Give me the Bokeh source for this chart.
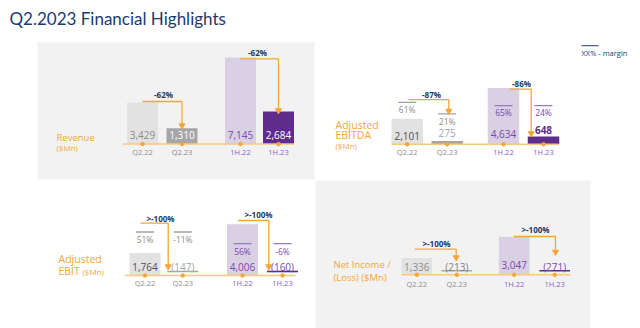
from bokeh.plotting import figure
from bokeh.layouts import column, row
from bokeh.models import Range1d
from bokeh.core.properties import value
from bokeh.embed import file_html
from bokeh.resources import INLINE

# ---------------- data ----------------
periods = ["Q2.22", "Q2.23", "1H.22", "1H.23"]
revenue = [3429, 1310, 7145, 2684]
revenue_change = ["-62%", "-62%"]
ebitda = [2101, 275, 4634, 648]
ebitda_margin = ["61%", "21%", "65%", "24%"]
ebitda_change = ["-87%", "-86%"]
ebit = [1764, -147, 4006, -160]
ebit_margin = ["51%", "-11%", "56%", "-6%"]
ebit_change = [">-100%", ">-100%"]
net_income = [1336, -213, 3047, -271]
net_income_change = [">-100%", ">-100%"]

FONT = "Open Sans"
NAVY = "#1d3a70"
ORANGE = "#f4a637"
BASE_LINE = "#fbc77a"
GRAY_TXT = "#8c8c8c"
PURPLE_TXT = "#7a46b0"
BAR_COLORS = ["#e2e2e2", "#a6a6a6", "#d9d1e3", "#5e2d8c"]
PANEL_BG = "#f2f2f2"


def fmt(v):
    return f"{v:,}" if v >= 0 else f"({-v:,})"


def make_panel(x0, y0, w, h, frame, base, scale, bg):
    fl, ft, fr, fb = frame
    p = figure(width=w, height=h, output_backend="svg", toolbar_location=None,
               x_range=Range1d(fl, fr),
               y_range=Range1d(-(fb - base) / scale, (base - ft) / scale),
               min_border_left=fl - x0, min_border_right=x0 + w - fr,
               min_border_top=ft - y0, min_border_bottom=y0 + h - fb,
               x_axis_location=None, y_axis_location=None,
               background_fill_color=bg, border_fill_color="white",
               outline_line_color=None)
    p.grid.visible = False

    def py(y):
        return (base - y) / scale
    return p, py


def txt(p, x, y, t, color, size, align="center", bold=False):
    p.text(x=x, y=y, text=t, text_color=color, text_font=value(FONT),
           text_font_size=size, text_align=align, text_baseline="middle",
           text_font_style="bold" if bold else "normal")


def draw_common(p, py, centers, bw, vals, line_x, cat_y, val_y, val_colors,
                val_bold, scale):
    tops = [max(v, 0) for v in vals]
    p.vbar(x=centers, width=bw, bottom=0, top=tops, fill_color=BAR_COLORS,
           line_color=None)
    for c, v, col in zip(centers, vals, ["#a6a6a6", "#a6a6a6", "#8a5cc0", "#5e2d8c"]):
        if v < 0:
            p.segment(x0=[c - bw / 2], x1=[c + bw / 2], y0=[4 / scale], y1=[4 / scale],
                      line_color=col, line_width=1.6)
    p.segment(x0=[line_x[0]], x1=[line_x[1]], y0=[0], y1=[0], line_color=BASE_LINE,
              line_width=1.6)
    p.scatter(x=centers, y=[0] * 4, size=3.5, color=ORANGE)
    txt(p, centers, [py(cat_y)] * 4, periods,
        [GRAY_TXT, GRAY_TXT, "#8e5cc7", "#8e5cc7"], "7.5px")
    for c, v, y, col, b in zip(centers, vals, val_y, val_colors, val_bold):
        txt(p, [c], [py(y)], [fmt(v)], col, "10px", bold=b)


def draw_arrow(p, py, x0, x1, yh, yend, label, lx, ly):
    p.line(x=[x0, x1, x1], y=[py(yh), py(yh), py(yend)], line_color=ORANGE,
           line_width=1.3)
    p.scatter(x=[x1], y=[py(yend + 1)], marker="inverted_triangle", size=6,
              color=ORANGE)
    txt(p, [lx], [py(ly)], [label], NAVY, "8px", bold=True)


def draw_margins(p, py, centers, labels, ys, colors, line_colors):
    for c, lab, y, col, lc in zip(centers, labels, ys, colors, line_colors):
        p.segment(x0=[c - 9], x1=[c + 9], y0=[py(y - 7.5)], y1=[py(y - 7.5)],
                  line_color=lc, line_width=1.3)
        txt(p, [c], [py(y)], [lab], col, "8.5px")


# ---------------- title ----------------
title = figure(width=640, height=40, output_backend="svg", toolbar_location=None,
               x_range=Range1d(0, 640), y_range=Range1d(40, 0),
               min_border_left=0, min_border_right=0, min_border_top=0,
               min_border_bottom=0, x_axis_location=None, y_axis_location=None,
               outline_line_color=None, background_fill_color="white",
               border_fill_color="white")
title.grid.visible = False
title.text(x=[9], y=[18], text=["Q2.2023 Financial Highlights"], text_color=NAVY,
           text_font=value("Lato"), text_font_size="17px", text_align="left",
           text_baseline="middle")

# ---------------- Revenue (top left) ----------------
s1 = 0.0121
tl, py1 = make_panel(0, 40, 315, 140, (37, 42, 314, 179), 143.5, s1, PANEL_BG)
c1 = [142, 181.5, 240, 278]
draw_common(tl, py1, c1, 31, revenue, (122, 293.5), 151, [134.5] * 4,
            ["#8c8c8c", "white", PURPLE_TXT, "white"], [False, False, False, False], s1)
draw_arrow(tl, py1, 142, 181.5, 101, 124, revenue_change[0], 163, 94)
draw_arrow(tl, py1, 240, 278, 58.3, 109, revenue_change[1], 257, 51.5)
txt(tl, [56], [py1(136.5)], ["Revenue"], ORANGE, "9.5px", align="left")
txt(tl, [56], [py1(146.5)], ["($Mn)"], ORANGE, "8px", align="left")

# ---------------- Adjusted EBITDA (top right) ----------------
s2 = 0.0124
tr, py2 = make_panel(315, 40, 325, 140, (315, 40, 640, 180), 144, s2, "white")
c2 = [406.7, 446.7, 503, 543]
draw_common(tr, py2, c2, 31.5, ebitda, (391, 558), 151.5, [136, 132.5, 133.5, 129],
            ["#505050", "#a6a6a6", PURPLE_TXT, "#5e2d8c"], [False, False, False, True], s2)
draw_margins(tr, py2, c2, ebitda_margin, [108.7, 120.5, 112, 112],
             [GRAY_TXT, GRAY_TXT, PURPLE_TXT, PURPLE_TXT],
             ["#a0a0a0", "#a0a0a0", "#9b78c2", "#9b78c2"])
draw_arrow(tr, py2, 408, 448.3, 98.3, 109, ebitda_change[0], 431, 93)
draw_arrow(tr, py2, 509, 530.7, 87.7, 132, ebitda_change[1], 521, 81.5)
txt(tr, [335], [py2(124.3)], ["Adjusted"], ORANGE, "10.5px", align="left")
txt(tr, [335], [py2(135)], ["EBITDA"], ORANGE, "10.5px", align="left")
txt(tr, [335], [py2(145.5)], ["($Mn)"], ORANGE, "8px", align="left")
tr.segment(x0=[581], x1=[598], y0=[py2(43.3)], y1=[py2(43.3)], line_color=NAVY,
           line_width=1)
txt(tr, [581], [py2(50.7)], ["XX% - margin"], NAVY, "7.5px", align="left")

# ---------------- Adjusted EBIT (bottom left) ----------------
s3 = 0.0128
bl, py3 = make_panel(0, 180, 315, 148, (0, 180, 315, 328), 275, s3, "white")
c3 = [144.5, 182.3, 242, 282]
draw_common(bl, py3, c3, 31, ebit, (124.5, 295), 282.5, [266] * 4,
            ["#505050", "#a6a6a6", PURPLE_TXT, PURPLE_TXT], [False, False, False, False], s3)
draw_margins(bl, py3, c3, ebit_margin, [239, 239, 250.7, 250.7],
             [GRAY_TXT, GRAY_TXT, PURPLE_TXT, PURPLE_TXT],
             ["#a0a0a0", "#a0a0a0", "#9b78c2", "#9b78c2"])
draw_arrow(bl, py3, 140, 167.7, 222.7, 265, ebit_change[0], 160, 218)
draw_arrow(bl, py3, 237.3, 268.3, 220, 265, ebit_change[1], 258, 213.5)
txt(bl, [58], [py3(258.3)], ["Adjusted"], ORANGE, "10.5px", align="left")
txt(bl, [58], [py3(270)], ["EBIT"], ORANGE, "10.5px", align="left")
txt(bl, [82], [py3(270.5)], ["($Mn)"], ORANGE, "8px", align="left")

# ---------------- Net Income (bottom right) ----------------
s4 = 0.0125
br, py4 = make_panel(315, 180, 325, 148, (315, 180, 590, 328), 274.3, s4, PANEL_BG)
c4 = [416.3, 456.3, 513.7, 554.2]
draw_common(br, py4, c4, 30.7, net_income, (401, 570), 283.3, [266, 266, 264.3, 266],
            ["#8c8c8c", "#808080", PURPLE_TXT, PURPLE_TXT], [False, False, False, False], s4)
draw_arrow(br, py4, 414.3, 455.7, 248.7, 256, net_income_change[0], 436, 243)
draw_arrow(br, py4, 513.3, 555, 236, 250.5, net_income_change[1], 535, 229.3)
txt(br, [333], [py4(264.3)], ["Net Income /"], ORANGE, "9.5px", align="left")
txt(br, [333], [py4(276.7)], ["(Loss)  ($Mn)"], ORANGE, "9.5px", align="left")

layout = column(title, row(tl, tr), row(bl, br))
open("out.html", "w").write(file_html(layout, INLINE))
